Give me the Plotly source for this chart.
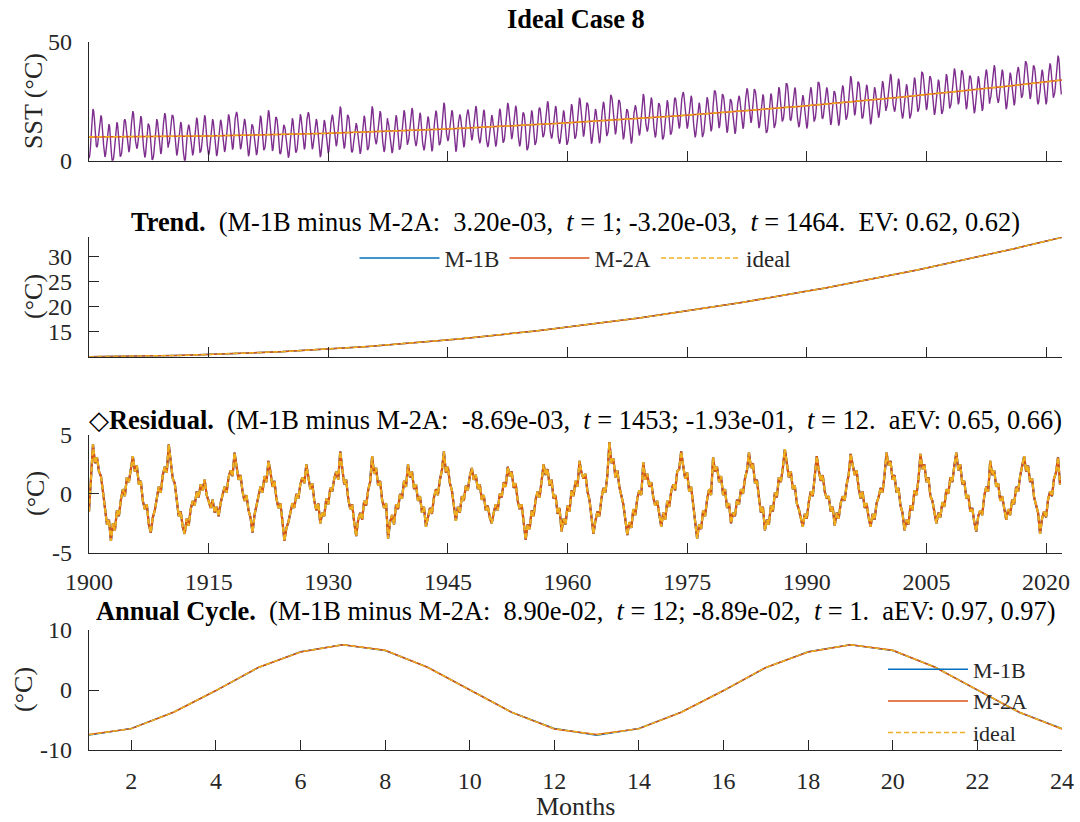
import numpy as np
import plotly.graph_objects as go

# ---------------- data ----------------
trend_years = list(range(1900, 2023))
trend_vals = [10.00, 10.01, 10.01, 10.03, 10.04, 10.06, 10.08, 10.10, 10.13, 10.16,
              10.20, 10.23, 10.27, 10.32, 10.36, 10.41, 10.47, 10.52, 10.58, 10.64,
              10.71, 10.78, 10.85, 10.92, 11.00, 11.08, 11.16, 11.25, 11.34, 11.44,
              11.53, 11.63, 11.74, 11.84, 11.95, 12.06, 12.18, 12.30, 12.42, 12.54,
              12.67, 12.80, 12.94, 13.08, 13.22, 13.36, 13.51, 13.66, 13.81, 13.97,
              14.13, 14.29, 14.46, 14.63, 14.80, 14.97, 15.15, 15.33, 15.52, 15.71,
              15.90, 16.09, 16.29, 16.49, 16.69, 16.90, 17.11, 17.32, 17.54, 17.76,
              17.98, 18.21, 18.44, 18.67, 18.90, 19.14, 19.38, 19.63, 19.87, 20.13,
              20.38, 20.64, 20.90, 21.16, 21.43, 21.70, 21.97, 22.25, 22.52, 22.81,
              23.09, 23.38, 23.67, 23.97, 24.27, 24.57, 24.87, 25.18, 25.49, 25.80,
              26.12, 26.44, 26.76, 27.09, 27.42, 27.75, 28.09, 28.43, 28.77, 29.11,
              29.46, 29.81, 30.17, 30.53, 30.89, 31.25, 31.62, 31.99, 32.36, 32.74,
              33.12, 33.50, 33.89]

cycle_ideal = [-7.45, -6.45, -3.70, -0.10, 3.75, 6.35, 7.55, 6.60, 3.80, 0.00, -3.75, -6.45]
cycle_m2a = [-7.43, -6.44, -3.71, -0.09, 3.76, 6.34, 7.56, 6.61, 3.79, 0.01, -3.74, -6.50]
cycle_m1b = [-7.52, -6.42, -3.69, -0.11, 3.74, 6.36, 7.54, 6.59, 3.81, -0.01, -3.76, -6.41]

# quarterly residual (4 values per year, 1900-2021)
resid_q = [
    -1.5, 1.8, 4.2, 2.6,   3.1, 1.9, 1.5, 0.2,   -1.0, -2.6, -2.2, -4.0,  -2.5, -3.1, -1.4, -1.9,
    -0.5, 0.4, -0.2, 1.4,  1.0, 2.2, 3.2, 1.9,   2.4, 0.8, 1.1, -0.6,     -1.3, -0.9, -2.6, -3.3,
    -2.0, -1.4, -0.2, 0.6, 0.1, 1.6, 2.3, 1.8,   4.2, 2.5, 1.3, 0.9,      -0.6, -1.9, -1.5, -2.8,
    -3.4, -2.1, -2.7, -1.3, -0.6, -1.0, 0.2, -0.3, 0.8, 0.3, 1.2, -0.1,   -0.6, -1.2, -0.5, -1.6,
    -1.1, -1.9, -0.8, 0.0, 0.6, 0.1, 1.4, 2.0,   1.5, 3.5, 2.4, 1.2,      1.6, 0.2, -0.6, -0.1,
    -1.4, -2.0, -3.3, -1.8, -1.0, -0.3, 0.6, 0.1, 1.5, 1.0, 2.8, 1.9,     0.6, 1.1, -0.4, -1.2,
    -0.8, -2.3, -4.0, -2.9, -2.4, -1.6, -0.8, -1.2, 0.0, -0.4, 0.8, 1.4,  0.9, 2.5, 1.6, 0.4,
    0.9, -0.6, -1.4, -0.8, -2.5, -1.6, -1.9, -0.4, -0.9, 0.5, 0.2, 1.3,   1.9, 1.2, 3.6, 2.0,
    0.8, 1.2, -0.4, -1.3,  -0.9, -2.4, -3.6, -2.2, -1.6, -2.2, -0.6, -1.0, 0.3, 1.0, 3.2, 1.7,
    2.2, 0.7, 1.1, -0.5,   -1.2, -0.8, -3.8, -2.4, -1.8, -2.6, -0.9, -1.3, 0.0, -0.4, 1.1, 0.6,
    2.5, 1.4, 1.9, 0.4,    0.8, -0.6, -0.2, -1.6, -1.1, -2.8, -1.9, -1.2, -1.7, -0.3, 0.4, -0.1,
    1.2, 2.0, 3.6, 1.8,    2.3, 0.9, 0.3, -0.8,   -2.3, -1.1, -1.6, -0.2, -0.6, 0.7, 0.3, 1.5,
    2.2, 1.2, 1.6, 0.4,    0.8, -0.5, -0.1, -1.4, -1.0, -2.0, -2.5, -1.6, -0.9, -1.4, 0.0, -0.3,
    1.0, 0.6, 2.3, 1.5,    1.9, 0.5, 0.9, -0.6,   -1.3, -0.9, -2.4, -3.9, -2.6, -3.0, -1.4, -1.9,
    -0.5, 0.2, -0.3, 1.2,  2.5, 1.6, 2.1, 0.7,    1.2, -0.4, -0.1, -1.7,  -1.2, -3.2, -2.1, -2.6,
    -1.0, -1.5, 0.3, -0.2, 1.1, 0.6, 2.8, 1.8,    1.3, 1.7, 0.2, -0.5,    -1.9, -3.4, -2.3, -1.5,
    -1.9, -0.4, 0.5, 0.1,  1.6, 4.4, 2.6, 3.0,    1.4, 2.0, 0.6, -0.3,    -0.9, -2.2, -3.5, -2.4,
    -2.9, -1.3, -1.8, -0.4, 0.3, -0.1, 2.7, 1.2,  1.7, 0.6, 1.0, -0.3,    -1.0, -0.6, -1.9, -2.8,
    -1.6, -2.2, -0.6, -1.1, 0.2, 0.8, 0.3, 1.9,   2.1, 3.6, 2.4, 1.3,     1.8, 0.2, 0.6, -0.9,
    -2.1, -3.8, -2.6, -3.0, -1.4, -1.9, -0.5, 0.4, -0.1, 3.1, 1.9, 2.3,   1.0, 1.5, -0.1, 0.4,
    -1.2, -0.8, -2.5, -1.6, -1.9, -0.5, -0.9, 0.4, 0.0, 1.3, 2.0, 3.5,    2.2, 2.6, 0.9, 1.2,
    -0.3, -1.6, -1.1, -3.1, -2.2, -2.6, -1.0, -1.5, 0.1, -0.3, 1.4, 1.0,  2.2, 3.8, 2.6, 1.4,
    1.9, 0.4, 0.7, -0.8,   -1.3, -2.0, -2.8, -1.7, -2.1, -0.7, 0.2, -0.2,  1.3, 3.2, 2.0, 1.1,
    1.6, 0.2, -0.4, -0.2,  -1.5, -1.1, -2.7, -1.6, -2.1, -0.8, -0.2, -0.6, 0.8, 1.6, 3.4, 2.3,
    1.6, 2.0, 0.5, -0.4,   0.2, -1.2, -0.8, -2.0,  -2.8, -1.7, -2.2, -0.8, -0.3, 0.5, 0.1, 1.6,
    3.5, 2.4, 2.8, 1.2,    1.6, 0.1, 0.5, -1.0,   -1.6, -3.1, -2.2, -2.6, -1.0, -1.4, 0.3, -0.1,
    1.2, 3.4, 2.1, 2.5,    1.0, 1.4, -0.2, -0.6,  -1.4, -2.5, -1.6, -2.0, -0.7, -1.1, 0.4, 0.0,
    1.4, 1.0, 2.4, 3.5,    2.0, 2.5, 0.8, 1.1,    -0.4, -0.1, -1.5, -1.2, -2.4, -3.2, -1.9, -1.4,
    -1.8, -0.2, 0.6, 0.2,  2.8, 1.6, 2.0, 0.6,    0.9, -0.6, -0.2, -1.4,  -2.2, -1.3, -1.8, -0.5,
    -0.9, 0.6, 0.2, 1.5,   2.3, 3.2, 1.9, 2.4,    1.0, 1.3, -0.3, -0.9,   -1.6, -3.4, -2.1, -1.5,
    -2.0, -0.5, 0.2, -0.2, 1.3, 1.8, 3.1, 0.8,
]

year_ticks = [1900, 1915, 1930, 1945, 1960, 1975, 1990, 2005, 2020]
month_ticks = [2, 4, 6, 8, 10, 12, 14, 16, 18, 20, 22, 24]
months_axis = list(range(1, 25))

# ---------------- derived series ----------------
n_years = 122
t_month = 1900 + np.arange(n_years * 12) / 12.0
sst = (np.repeat(np.array(trend_vals[:n_years]), 12)
       + np.tile(np.array(cycle_ideal), n_years)
       + np.repeat(np.array(resid_q), 3))
t_quarter = 1900 + np.arange(len(resid_q)) * 0.25

C_BLUE = '#0072BD'
C_RED = '#D95319'
C_YEL = '#EDB120'
C_PUR = '#7E2F8E'
AX = '#262626'
FONT = 'Liberation Serif, Times New Roman, serif'

fig = go.Figure()

# Panel 1
fig.add_trace(go.Scatter(x=t_month, y=sst, mode='lines', line=dict(color=C_PUR, width=1.4),
                         showlegend=False, xaxis='x', yaxis='y'))
fig.add_trace(go.Scatter(x=trend_years, y=trend_vals, mode='lines', line=dict(color=C_RED, width=1.5),
                         showlegend=False, xaxis='x', yaxis='y'))
fig.add_trace(go.Scatter(x=trend_years, y=trend_vals, mode='lines',
                         line=dict(color=C_YEL, width=1.5, dash='5px,3px'),
                         showlegend=False, xaxis='x', yaxis='y'))

# Panel 2 (trend)
fig.add_trace(go.Scatter(x=trend_years, y=trend_vals, mode='lines', name='M-1B',
                         line=dict(color=C_BLUE, width=1.5), xaxis='x2', yaxis='y2', legend='legend'))
fig.add_trace(go.Scatter(x=trend_years, y=trend_vals, mode='lines', name='M-2A',
                         line=dict(color=C_RED, width=1.5), xaxis='x2', yaxis='y2', legend='legend'))
fig.add_trace(go.Scatter(x=trend_years, y=trend_vals, mode='lines', name='ideal',
                         line=dict(color=C_YEL, width=1.5, dash='5px,3px'), xaxis='x2', yaxis='y2',
                         legend='legend'))

# Panel 3 (residual)
fig.add_trace(go.Scatter(x=t_quarter, y=resid_q, mode='lines', line=dict(color=C_BLUE, width=2.2),
                         showlegend=False, xaxis='x3', yaxis='y3'))
fig.add_trace(go.Scatter(x=t_quarter, y=resid_q, mode='lines', line=dict(color=C_RED, width=2.2),
                         showlegend=False, xaxis='x3', yaxis='y3'))
fig.add_trace(go.Scatter(x=t_quarter, y=resid_q, mode='lines',
                         line=dict(color=C_YEL, width=2.2, dash='5px,3px'),
                         showlegend=False, xaxis='x3', yaxis='y3'))

# Panel 4 (annual cycle, two years)
fig.add_trace(go.Scatter(x=months_axis, y=cycle_m1b + cycle_m1b, mode='lines', name='M-1B',
                         line=dict(color=C_BLUE, width=1.5), xaxis='x4', yaxis='y4', legend='legend2'))
fig.add_trace(go.Scatter(x=months_axis, y=cycle_m2a + cycle_m2a, mode='lines', name='M-2A',
                         line=dict(color=C_RED, width=1.5), xaxis='x4', yaxis='y4', legend='legend2'))
fig.add_trace(go.Scatter(x=months_axis, y=cycle_ideal + cycle_ideal, mode='lines', name='ideal',
                         line=dict(color=C_YEL, width=1.5, dash='5px,3px'), xaxis='x4', yaxis='y4',
                         legend='legend2'))

W, H = 1080, 822
x0, x1 = 89 / W, 1062 / W


def ydom(top, bot):
    return [1 - bot / H, 1 - top / H]


common = dict(showline=True, linecolor=AX, linewidth=1.3, ticks='inside', ticklen=10,
              tickcolor=AX, tickwidth=1.3, showgrid=False, zeroline=False, automargin=False,
              tickfont=dict(family=FONT, size=24, color=AX))

fig.update_layout(
    template='none',
    width=W, height=H, margin=dict(l=0, r=0, t=0, b=0, pad=0, autoexpand=False),
    paper_bgcolor='white', plot_bgcolor='white',
    font=dict(family=FONT, size=24, color=AX),
    xaxis=dict(domain=[x0, x1], range=[1900, 2022], tickvals=year_ticks, showticklabels=False,
               anchor='y', **common),
    yaxis=dict(domain=ydom(41.7, 160.7), range=[0, 50], tickvals=[0, 50], anchor='x',
               ticklabelstandoff=11, **common),
    xaxis2=dict(domain=[x0, x1], range=[1900, 2022], tickvals=year_ticks, showticklabels=False,
                anchor='y2', **common),
    yaxis2=dict(domain=ydom(237.3, 356.7), range=[10, 33.9], tickvals=[15, 20, 25, 30], anchor='x2',
                ticklabelstandoff=11, **common),
    xaxis3=dict(domain=[x0, x1], range=[1900, 2022], tickvals=year_ticks,
                ticktext=[str(v) for v in year_ticks], anchor='y3', ticklabelstandoff=7, **common),
    yaxis3=dict(domain=ydom(435, 552.7), range=[-5, 5], tickvals=[-5, 0, 5],
                ticktext=['-5', '0', '5'], anchor='x3', ticklabelstandoff=11, **common),
    xaxis4=dict(domain=[x0, x1], range=[1, 24], tickvals=month_ticks, anchor='y4',
                ticklabelstandoff=9, **common),
    yaxis4=dict(domain=ydom(630, 750), range=[-10, 10], tickvals=[-10, 0, 10],
                ticktext=['-10', '0', '10'], anchor='x4', ticklabelstandoff=11, **common),
    legend=dict(orientation='h', x=575.5 / W, xanchor='center', y=1 - 258 / H, yanchor='middle',
                font=dict(family=FONT, size=23, color=AX), bgcolor='rgba(0,0,0,0)',
                itemwidth=80, borderwidth=0),
    legend2=dict(orientation='v', x=883 / W, xanchor='left', y=1 - 701 / H, yanchor='middle',
                 font=dict(family=FONT, size=22, color=AX), bgcolor='rgba(0,0,0,0)',
                 itemwidth=80, borderwidth=0, tracegroupgap=0),
)

NB = '\u00a0'
sp2 = NB + NB
cx = (89 + 1062) / 2 / W
titles = [
    (19, '<b>Ideal Case 8</b>'),
    (222, '<b>Trend.</b>' + sp2 + '(M-1B minus M-2A:' + sp2 + '3.20e-03,' + sp2 + '<i>t</i> = 1; -3.20e-03,'
     + sp2 + '<i>t</i> = 1464.' + sp2 + 'EV: 0.62, 0.62)'),
    (420, '\u25c7<b>Residual.</b>' + sp2 + '(M-1B minus M-2A:' + sp2 + '-8.69e-03,' + sp2
     + '<i>t</i> = 1453; -1.93e-01,' + sp2 + '<i>t</i> = 12.' + sp2 + 'aEV: 0.65, 0.66)'),
    (611, '<b>Annual Cycle.</b>' + sp2 + '(M-1B minus M-2A:' + sp2 + '8.90e-02,' + sp2
     + '<i>t</i> = 12; -8.89e-02,' + sp2 + '<i>t</i> = 1.' + sp2 + 'aEV: 0.97, 0.97)'),
]
for yc, txt in titles:
    fig.add_annotation(x=cx, y=1 - yc / H, xref='paper', yref='paper', text=txt, showarrow=False,
                       xanchor='center', yanchor='middle', font=dict(family=FONT, size=26.4, color='black'))

ylabels = [(33, 101, 'SST (°C)'), (33, 297, '(°C)'), (35, 494, '(°C)'), (23, 690, '(°C)')]
for xc, yc, txt in ylabels:
    fig.add_annotation(x=xc / W, y=1 - yc / H, xref='paper', yref='paper', text=txt, showarrow=False,
                       textangle=-90, xanchor='center', yanchor='middle',
                       font=dict(family=FONT, size=26, color=AX))

fig.add_annotation(x=cx, y=1 - 806 / H, xref='paper', yref='paper', text='Months', showarrow=False,
                   xanchor='center', yanchor='middle', font=dict(family=FONT, size=26, color=AX))

fig.write_html('out.html')
